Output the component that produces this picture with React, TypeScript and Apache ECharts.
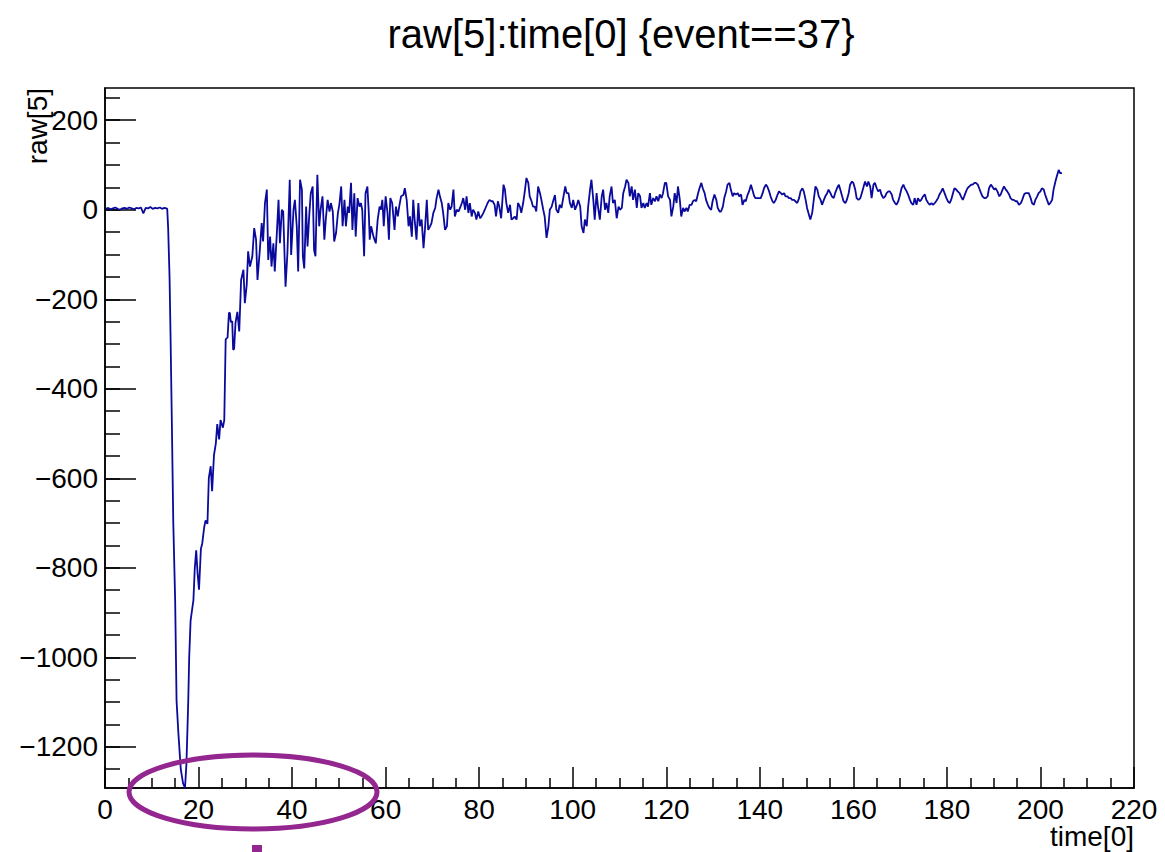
import React, { useEffect, useRef } from "react";
import * as echarts from "echarts";

const FONT = "'Liberation Sans', Arial, Helvetica, sans-serif";

// [time, raw] pairs
const baseline = [
  [0.2, 2], [0.7, 4], [1.2, 1], [1.7, 3], [2.2, 5], [2.7, 2], [3.2, 0], [3.7, 3], [4.2, 4],
  [4.7, 2], [5.2, 5], [5.7, 3], [6.2, 1], [6.7, 4], [7.2, 3], [7.7, 5], [8.2, -8], [8.7, 4],
  [9.2, 3], [9.7, 6], [10.2, 2], [10.7, 4], [11.2, 3], [11.7, 5], [12.2, 2], [12.7, 4], [13.1, 3],
];

const pulse = [
  [13.3, 2], [13.5, -40], [13.8, -150], [14.0, -273], [14.3, -480], [14.6, -700], [15.0, -873],
  [15.3, -1097], [15.7, -1171], [16.2, -1250], [16.7, -1282], [17.1, -1292], [17.4, -1240],
  [17.6, -1171], [17.8, -1097], [18.0, -1000], [18.3, -918], [18.6, -895], [18.9, -873],
  [19.2, -800], [19.5, -761], [19.8, -813], [20.1, -849], [20.5, -758], [20.8, -745],
  [21.2, -710], [21.5, -694], [21.9, -702], [22.2, -599], [22.6, -573], [22.9, -629],
  [23.3, -548], [23.7, -522], [24.0, -479], [24.4, -513], [24.7, -470], [25.2, -487],
  [25.5, -470], [25.8, -290],
];

const recovery = [
  [26.0, -287], [26.2, -286], [26.5, -230], [26.7, -231], [26.9, -251], [27.2, -249], [27.4, -313],
  [27.6, -311], [27.9, -253], [28.3, -228], [28.7, -272], [29.1, -157], [29.6, -134], [29.9, -209],
  [30.3, -168], [30.6, -93], [31.0, -127], [31.5, -104], [31.9, -41], [32.3, -67], [32.6, -157],
  [33.1, -90], [33.5, -30], [33.8, -71], [34.2, 15], [34.6, 45], [34.9, -112], [35.3, -60],
  [35.6, -127], [36.0, -75], [36.3, -138], [36.7, -60], [37.1, 22], [37.4, -75], [37.8, 0],
  [38.1, -4], [38.6, -172], [39.0, -97], [39.5, 67], [39.8, -101], [40.3, 0], [40.6, 22],
  [41.0, -37], [41.3, -138], [41.7, 67], [42.1, 45], [42.3, -104], [42.6, -131], [43.0, 7],
  [43.3, -82], [43.7, -7], [44.0, 37], [44.4, 52], [44.7, -90], [45.0, -104], [45.4, 78],
  [45.8, -37], [46.1, 0], [46.5, 30], [46.9, -67], [47.2, -22], [47.6, 22], [48.0, -4],
  [48.3, 15], [48.7, -4], [49.0, -71], [49.4, -52], [49.8, -7], [50.1, 11], [50.5, 52],
  [50.8, -37], [51.2, 22], [51.5, -37], [51.9, 7], [52.2, -7], [52.6, 60], [52.9, -45],
  [53.3, 37], [53.6, -60], [54.0, 26], [54.4, 7], [54.7, 15], [55.0, 0], [55.4, -104],
  [55.7, 37], [56.1, 52], [56.4, -7], [56.6, -67], [56.9, -37], [57.4, -60], [57.9, -75],
  [58.3, -22], [58.7, 7], [59.0, 0], [59.3, 22], [59.6, -37], [60.0, 30],
];

const settle = [
  [60.4, -7], [60.7, -67], [61.0, 26], [61.4, 15], [61.9, -45], [62.2, 7], [62.6, -15], [62.9, 7],
  [63.3, 30], [63.8, 33], [64.1, 48], [64.5, 22], [64.9, -37], [65.2, -15], [65.6, -60], [65.9, 22],
  [66.2, -22], [66.6, -67], [67.0, 15], [67.3, -37], [67.7, -22], [68.1, -86], [68.4, -45],
  [68.8, 22], [69.1, -45], [69.5, -37], [69.8, -30], [70.2, -7], [70.6, 4], [70.9, 26], [71.3, 45],
  [71.6, 30], [72.0, 15], [72.3, -7], [72.7, -45], [73.1, -37], [73.4, 15], [73.8, 0], [74.1, 7],
  [74.5, 45], [74.8, -15], [75.2, 0], [75.6, -4], [75.9, 4], [76.3, 15], [76.6, 26], [77.0, 0],
  [77.3, 30], [77.7, -7], [78.0, 15], [78.4, -15], [78.7, 0], [79.1, -7], [79.4, -22], [79.8, -4],
  [80.2, -19], [80.5, -15], [80.9, -7], [81.2, 0], [81.8, 15], [82.2, 22], [82.6, 19], [82.9, 19],
  [83.3, 11], [83.6, -15], [84.0, 19], [84.3, 7], [84.7, -19], [85.2, 56], [85.5, 45], [85.8, 15],
  [86.2, -7], [86.6, 11], [86.9, -22], [87.3, -19], [87.6, -15], [88.0, -22], [88.3, 15], [88.7, 7],
  [89.0, -7], [89.4, 15], [89.8, 45], [90.1, 71], [90.5, 60], [90.8, 30], [91.2, 19], [91.5, 7],
  [91.9, 7], [92.2, -4], [92.6, 52], [93.0, 37], [93.3, 22], [93.7, 0], [94.0, -15], [94.4, -63],
  [94.8, -37], [95.1, 0], [95.5, 7], [95.8, 19], [96.2, 33], [96.5, 0], [96.9, -7], [97.2, 11],
  [97.6, 4], [97.9, 22], [98.4, 52], [98.7, 37], [99.1, 37], [99.4, 15], [99.8, 4], [100.1, 22],
  [100.5, 0], [100.9, 11], [101.2, 22], [101.6, 7], [101.9, -37], [102.3, -52], [102.6, -22],
  [103.0, -37], [103.3, 7], [103.7, 45], [104.0, 67], [104.4, 22], [104.7, -22], [105.1, 37],
  [105.4, 7], [105.8, -22], [106.2, 30], [106.5, 45], [106.9, 0], [107.2, 15], [107.6, -7],
  [107.9, 30], [108.3, 52], [108.6, 15], [109.0, 22], [109.4, -19], [109.8, 7], [110.1, 0],
  [110.5, 4],
];

const tail = [
  [110.8, 37], [111.2, 52], [111.5, 67], [111.9, 60], [112.2, 30], [112.6, 52], [112.9, 22],
  [113.3, 45], [113.7, 4], [114.0, 37], [114.4, 30], [114.7, 4], [115.1, 15], [115.4, 4], [115.8, 15],
  [116.1, 7], [116.5, 37], [116.8, 11], [117.2, 26], [117.6, 19], [117.9, 30], [118.3, 19],
  [118.6, 34], [119.0, 26], [119.3, 37], [119.7, 60], [120.0, 60], [120.4, 30], [120.8, 22],
  [121.1, -15], [121.5, 7], [121.8, 37], [122.2, 15], [122.5, 52], [122.9, 22], [123.2, -15],
  [123.6, 4], [123.9, -4], [124.3, 4], [124.6, -4], [125.0, 11], [125.4, 11], [125.7, 19],
  [126.1, 22], [126.4, 19], [126.8, 37], [127.1, 48], [127.5, 60], [127.8, 48], [128.2, 37],
  [128.5, 22], [128.9, 11], [129.2, 4], [129.6, 0], [129.9, 19], [130.3, 34], [130.7, 22],
  [131.0, 4], [131.4, -4], [131.7, -4], [132.1, 7], [132.4, 26], [132.8, 41], [133.1, 56],
  [133.5, 60], [133.8, 45], [134.2, 30], [134.5, 37], [134.9, 34], [135.3, 37], [135.6, 30],
  [136.0, 34], [136.3, 11], [136.7, 22], [137.0, 19], [137.4, 34], [137.7, 41], [138.1, 56],
  [138.4, 45], [138.8, 30], [139.1, 26], [139.5, 26], [139.9, 26], [140.2, 26], [140.6, 37],
  [140.9, 48], [141.3, 56], [141.6, 52], [142.0, 41], [142.3, 30], [142.7, 19], [143.0, 15],
  [143.4, 22], [143.8, 34], [144.1, 41], [144.5, 37], [144.8, 34], [145.2, 37], [145.5, 30],
  [145.9, 30], [146.2, 26], [146.6, 26], [146.9, 22], [147.3, 22], [147.6, 19], [148.0, 15],
  [148.4, 26], [148.7, 41], [149.1, 48], [149.4, 41], [149.8, 22], [150.1, 4], [150.5, -11],
  [150.8, -22], [151.2, -7], [151.5, 19], [151.9, 52], [152.3, 45], [152.6, 30], [153.0, 22],
  [153.3, 11], [153.7, 22], [154.0, 30], [154.4, 37], [154.7, 45], [155.1, 37], [155.4, 30],
  [155.8, 26], [156.1, 37], [156.5, 48], [156.9, 56], [157.2, 45], [157.6, 30], [157.9, 19],
  [158.3, 15], [158.6, 22], [159.0, 37], [159.3, 56], [159.7, 63], [160.0, 60], [160.4, 45],
  [160.7, 26], [161.1, 22], [161.5, 26], [161.8, 37], [162.2, 52],
];

const ending = [
  [162.5, 63], [162.9, 52], [163.2, 63], [163.6, 52], [163.9, 26], [164.3, 56], [164.6, 60],
  [165.0, 48], [165.3, 41], [165.7, 45], [166.0, 34], [166.4, 26], [166.8, 30], [167.1, 37],
  [167.5, 41], [167.8, 41], [168.2, 34], [168.5, 22], [168.9, 15], [169.2, 11], [169.6, 19],
  [169.9, 30], [170.3, 48], [170.7, 56], [171.0, 48], [171.4, 41], [171.7, 34], [172.1, 22],
  [172.4, 15], [172.8, 11], [173.1, 26], [173.5, 11], [173.8, 26], [174.2, 19], [174.5, 22],
  [174.9, 30], [175.3, 34], [175.6, 22], [176.0, 15], [176.3, 11], [176.7, 15], [177.0, 11],
  [177.4, 15], [177.7, 19], [178.1, 26], [178.4, 34], [178.8, 41], [179.1, 48], [179.5, 37],
  [179.9, 26], [180.2, 19], [180.6, 15], [180.9, 22], [181.3, 37], [181.6, 48], [182.0, 45],
  [182.3, 41], [182.7, 37], [183.0, 30], [183.4, 22], [183.7, 30], [184.1, 41], [184.4, 48],
  [184.8, 52], [185.2, 56], [185.5, 56], [185.9, 60], [186.2, 60], [186.6, 56], [186.9, 48],
  [187.3, 37], [187.6, 30], [188.0, 26], [188.3, 26], [188.7, 30], [189.0, 48], [189.4, 56],
  [189.7, 52], [190.1, 45], [190.4, 48], [190.8, 41], [191.2, 30], [191.5, 34], [191.9, 45],
  [192.2, 52], [192.6, 45], [192.9, 41], [193.3, 34], [193.6, 26], [194.0, 22], [194.3, 22],
  [194.7, 19], [195.0, 19], [195.4, 11], [195.8, 15], [196.1, 22], [196.5, 34], [196.8, 37],
  [197.2, 37], [197.5, 37], [197.9, 26], [198.2, 15], [198.6, 11], [198.9, 22], [199.3, 30],
  [199.6, 37], [200.0, 41], [200.3, 48], [200.7, 45], [201.0, 34], [201.4, 22], [201.8, 11],
  [202.1, 15], [202.5, 22], [202.8, 45], [203.2, 63], [203.5, 75], [203.9, 89], [204.2, 82],
  [204.6, 82],
];

const yMajorTicks = [-1200, -1000, -800, -600, -400, -200, 0, 200];
const yMinorTicks = [
  -1250, -1200, -1150, -1100, -1050, -1000, -950, -900, -850, -800, -750, -700, -650, -600,
  -550, -500, -450, -400, -350, -300, -250, -200, -150, -100, -50, 0, 50, 100, 150, 200, 250,
];

const titleText = "raw[5]:time[0] {event==37}";
const xName = "time[0]";
const yName = "raw[5]";

export default function App() {
  const ref = useRef<HTMLDivElement>(null);

  useEffect(() => {
    if (!ref.current) return;
    const chart = echarts.init(ref.current, null, { renderer: "svg" });
    const data = [...baseline, ...pulse, ...recovery, ...settle, ...tail, ...ending];
    const black = "#000";
    chart.setOption({
      animation: false,
      backgroundColor: "#fff",
      grid: {
        left: 105,
        right: 31,
        top: 88,
        bottom: 64,
        show: true,
        borderColor: black,
        borderWidth: 1.5,
        containLabel: false,
      },
      xAxis: {
        type: "value",
        min: 0,
        max: 220,
        interval: 20,
        axisLine: { show: true, onZero: false, lineStyle: { color: black, width: 1.5 } },
        axisTick: { show: true, inside: true, length: 21, lineStyle: { color: black, width: 1.5 } },
        minorTick: { show: true, splitNumber: 4, length: 10, lineStyle: { color: black, width: 1.5 } },
        axisLabel: { color: black, fontSize: 28, fontFamily: FONT, margin: 7 },
        splitLine: { show: false },
        minorSplitLine: { show: false },
      },
      yAxis: [
        {
          type: "value",
          min: -1292,
          max: 272,
          position: "left",
          axisLine: { show: true, onZero: false, lineStyle: { color: black, width: 1.5 } },
          axisTick: {
            show: true,
            inside: true,
            length: 31,
            customValues: yMajorTicks,
            lineStyle: { color: black, width: 1.5 },
          },
          axisLabel: {
            color: black,
            fontSize: 28,
            fontFamily: FONT,
            margin: 7,
            customValues: yMajorTicks,
            formatter: (v: number) => String(v).replace("-", "\u2212"),
          },
          splitLine: { show: false },
        },
        {
          type: "value",
          min: -1292,
          max: 272,
          position: "left",
          offset: 0,
          axisLine: { show: false },
          axisTick: {
            show: true,
            inside: true,
            length: 15,
            customValues: yMinorTicks,
            lineStyle: { color: black, width: 1.5 },
          },
          axisLabel: { show: false },
          splitLine: { show: false },
        },
      ],
      series: [
        {
          type: "line",
          data,
          xAxisIndex: 0,
          yAxisIndex: 0,
          showSymbol: false,
          symbol: "none",
          clip: true,
          lineStyle: { color: "#0a0a9c", width: 1.8 },
        },
      ],
      graphic: [
        {
          type: "text",
          x: 621,
          y: 34,
          style: {
            text: titleText,
            font: `40px ${FONT}`,
            fill: black,
            align: "center",
            verticalAlign: "middle",
          },
        },
        {
          type: "text",
          x: 37,
          y: 88,
          rotation: Math.PI / 2,
          style: {
            text: yName,
            font: `28px ${FONT}`,
            fill: black,
            align: "right",
            verticalAlign: "middle",
          },
        },
        {
          type: "text",
          x: 1134,
          y: 836,
          style: {
            text: xName,
            font: `28px ${FONT}`,
            fill: black,
            align: "right",
            verticalAlign: "middle",
          },
        },
        {
          type: "ellipse",
          z: 100,
          shape: { cx: 253, cy: 792, rx: 124, ry: 37 },
          style: { fill: "transparent", stroke: "#93278f", lineWidth: 5 },
        },
        {
          type: "rect",
          z: 100,
          shape: { x: 252, y: 845, width: 10, height: 8 },
          style: { fill: "#93278f" },
        },
      ],
    });
    return () => chart.dispose();
  }, []);

  return (
    <div
      ref={ref}
      style={{ position: "absolute", left: 0, top: 0, width: 1165, height: 852 }}
    />
  );
}
